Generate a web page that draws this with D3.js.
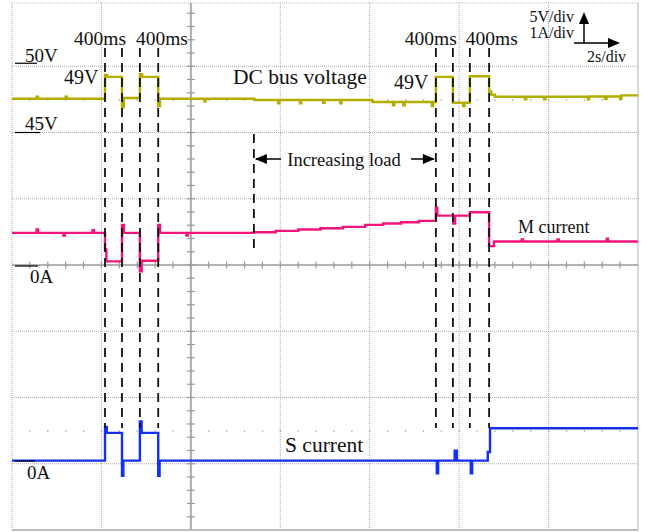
<!DOCTYPE html>
<html>
<head>
<meta charset="utf-8">
<script src="https://cdn.jsdelivr.net/npm/d3@7"></script>
<style>
  body { margin: 0; background: #fff; }
  svg text { font-family: "Liberation Serif", "Times New Roman", serif; fill: #111; }
</style>
</head>
<body>
<svg></svg>
<script>
var width = 647, height = 532;

// time in seconds (2 s/div, 7 divisions shown)
var timeDomain = [0, 14];

// DC bus voltage [t (s), V]
var busVoltage = [
  [0, 47.55], [0.55, 47.7], [0.58, 47.55], [1.2, 47.7], [1.23, 47.55],
  [2.08, 49.35], [2.13, 49.2],
  [2.46, 46.9], [2.5, 47.6],
  [2.86, 49.4], [2.91, 49.2],
  [3.27, 47.0], [3.31, 47.55],
  [4.3, 47.35], [4.33, 47.55],
  [5.42, 47.45], [5.95, 47.2], [5.98, 47.45], [6.44, 47.2], [6.47, 47.45],
  [6.96, 47.25], [6.99, 47.45], [7.34, 47.2], [7.37, 47.45],
  [8.06, 47.3], [8.52, 47.05], [8.55, 47.3], [8.75, 47.05], [8.78, 47.3],
  [9.39, 47.0], [9.42, 47.3],
  [9.48, 49.2],
  [9.86, 47.25], [10.09, 47.0], [10.12, 47.25],
  [10.24, 49.25],
  [10.67, 48.1], [10.72, 47.85], [10.8, 47.7],
  [11.47, 47.5], [11.5, 47.7], [11.9, 47.5], [11.93, 47.7],
  [12.88, 47.5], [12.91, 47.72], [13.26, 47.55], [13.3, 47.72],
  [13.6, 47.55], [13.63, 47.8], [14, 47.8]
];

// M current [t (s), A]
var mCurrent = [
  [0, 0.5], [0.55, 0.55], [0.58, 0.5], [1.15, 0.46], [1.18, 0.5], [1.8, 0.54], [1.83, 0.5],
  [2.08, 0.25], [2.11, 0.07],
  [2.46, 0.62], [2.5, 0.5],
  [2.86, -0.08], [2.9, 0.08],
  [3.27, 0.62], [3.31, 0.5],
  [3.9, 0.46], [3.93, 0.5],
  [5.41, 0.51], [5.9, 0.53], [6.4, 0.55], [6.9, 0.57], [7.4, 0.59],
  [7.9, 0.62], [8.3, 0.64], [8.7, 0.66], [9.1, 0.68],
  [9.48, 0.88], [9.51, 0.76],
  [9.87, 0.64], [9.91, 0.76],
  [10.24, 0.81],
  [10.67, 0.3], [10.78, 0.37],
  [11.4, 0.4], [11.43, 0.37], [12.2, 0.4], [12.23, 0.37], [13.3, 0.41], [13.33, 0.37],
  [14, 0.37]
];

// S current [t (s), A]
var sCurrent = [
  [0, 0.02], [2.08, 0.53], [2.12, 0.44],
  [2.46, -0.21], [2.49, 0.02],
  [2.86, 0.61], [2.9, 0.44],
  [3.27, -0.21], [3.3, 0.02],
  [9.5, -0.17], [9.53, 0.02],
  [9.9, 0.17], [9.95, 0.02],
  [10.26, -0.17], [10.29, 0.02],
  [10.64, 0.15], [10.69, 0.51],
  [14, 0.51]
];

// 400 ms windows (start, end) in seconds
var pulseWindows = [[2.08, 2.46], [2.86, 3.27], [9.48, 9.86], [10.24, 10.67]];
var pulseLabels = ["400ms", "400ms", "400ms", "400ms"];
var loadRange = [5.41, 9.48];

var svg = d3.select("svg")
  .attr("width", width)
  .attr("height", height);

svg.append("rect").attr("width", width).attr("height", height).attr("fill", "#fff");

// scales
var x = d3.scaleLinear().domain(timeDomain).range([12, 638]);
var gridY = d3.scaleLinear().domain([0, 8]).range([0, 530]);
var yV = d3.scaleLinear().domain([45, 50]).range([132.5, 66.25]);
var yM = d3.scaleLinear().domain([0, 1]).range([266, 199.7]);
var yS = d3.scaleLinear().domain([0, 1]).range([462, 395.7]);

// grid
var grid = svg.append("g");
d3.range(1, 8).forEach(function (i) {
  if (i == 4) return;
  grid.append("line")
    .attr("x1", 12).attr("x2", 638)
    .attr("y1", gridY(i)).attr("y2", gridY(i))
    .attr("stroke", "#aaa").attr("stroke-dasharray", "1,1");
});
d3.range(1, 7).forEach(function (i) {
  if (i == 2) return;
  grid.append("line")
    .attr("x1", x(i * 2)).attr("x2", x(i * 2))
    .attr("y1", 3).attr("y2", 530)
    .attr("stroke", "#aaa").attr("stroke-dasharray", "1,1");
});
// frame
grid.append("line").attr("x1", 12).attr("x2", 638).attr("y1", 3).attr("y2", 3)
  .attr("stroke", "#bbb").attr("stroke-dasharray", "1,1");
grid.append("line").attr("x1", 12).attr("x2", 12).attr("y1", 3).attr("y2", 530)
  .attr("stroke", "#aaa").attr("stroke-dasharray", "1,1");
grid.append("line").attr("x1", 638).attr("x2", 638).attr("y1", 3).attr("y2", 530)
  .attr("stroke", "#ccc").attr("stroke-width", 1.5);
grid.append("line").attr("x1", 12).attr("x2", 638).attr("y1", 530).attr("y2", 530)
  .attr("stroke", "#aaa").attr("stroke-width", 1.5);

// center axes with minor ticks
grid.append("line").attr("x1", 12).attr("x2", 638).attr("y1", gridY(4)).attr("y2", gridY(4))
  .attr("stroke", "#999").attr("stroke-width", 1.5);
grid.append("line").attr("x1", x(4)).attr("x2", x(4)).attr("y1", 3).attr("y2", 530)
  .attr("stroke", "#aaa").attr("stroke-width", 2);
d3.range(0.4, 14, 0.4).forEach(function (t) {
  grid.append("line").attr("x1", x(t)).attr("x2", x(t))
    .attr("y1", gridY(4) - 3.5).attr("y2", gridY(4) + 3.5)
    .attr("stroke", "#999").attr("stroke-width", 1.2);
});
d3.range(1, 40).forEach(function (k) {
  var yy = gridY(k / 5);
  grid.append("line").attr("x1", x(4) - 4).attr("x2", x(4) + 4)
    .attr("y1", yy).attr("y2", yy)
    .attr("stroke", "#999").attr("stroke-width", 1.2);
});
// faint marker dots
[100, 431].forEach(function (yy) {
  d3.range(0.4, 14, 0.4).forEach(function (t) {
    grid.append("rect").attr("x", x(t) - 0.6).attr("y", yy - 0.6)
      .attr("width", 1.3).attr("height", 1.3).attr("fill", "#999");
  });
});

// traces
function trace(data, yScale, color) {
  svg.append("path")
    .datum(data)
    .attr("fill", "none")
    .attr("stroke", color)
    .attr("stroke-width", 2.4)
    .attr("d", d3.line()
      .curve(d3.curveStepAfter)
      .x(function (d) { return x(d[0]); })
      .y(function (d) { return yScale(d[1]); })
    );
}
trace(busVoltage, yV, "#b3ad00");
trace(mCurrent, yM, "#f2147d");
trace(sCurrent, yS, "#1530f5");

// dashed markers for the 400 ms windows
var dashes = svg.append("g");
pulseWindows.forEach(function (w) {
  w.forEach(function (t) {
    dashes.append("line")
      .attr("x1", x(t)).attr("x2", x(t))
      .attr("y1", 48).attr("y2", 428)
      .attr("stroke", "#111").attr("stroke-width", 1.8)
      .attr("stroke-dasharray", "9,6");
  });
});
dashes.append("line")
  .attr("x1", x(loadRange[0])).attr("x2", x(loadRange[0]))
  .attr("y1", 134).attr("y2", 252)
  .attr("stroke", "#111").attr("stroke-width", 1.8)
  .attr("stroke-dasharray", "9,6");

// 400ms labels sit outside each pair of windows
pulseWindows.forEach(function (w, i) {
  var outer = i % 2 == 0;
  svg.append("text")
    .attr("x", outer ? x(w[1]) + 4 : x(w[0]) - 4).attr("y", 45)
    .attr("text-anchor", outer ? "end" : "start").attr("font-size", 19.5)
    .text(pulseLabels[i]);
});

// arrows
function arrowHead(x0, y0, dx, dy) {
  // tip at (x0, y0), direction (dx, dy)
  var len = 12, half = 5;
  var bx = x0 - dx * len, by = y0 - dy * len;
  var px = -dy * half, py = dx * half;
  svg.append("path")
    .attr("d", "M" + x0 + "," + y0 + "L" + (bx + px) + "," + (by + py) + "L" + (bx - px) + "," + (by - py) + "Z")
    .attr("fill", "#000");
}
var yArrow = 159;
svg.append("line").attr("x1", x(loadRange[0]) + 2).attr("x2", 281)
  .attr("y1", yArrow).attr("y2", yArrow).attr("stroke", "#000").attr("stroke-width", 1.5);
arrowHead(x(loadRange[0]) + 1, yArrow, -1, 0);
svg.append("line").attr("x1", 411).attr("x2", x(loadRange[1]) - 2)
  .attr("y1", yArrow).attr("y2", yArrow).attr("stroke", "#000").attr("stroke-width", 1.5);
arrowHead(x(loadRange[1]) - 1, yArrow, 1, 0);
svg.append("text").attr("x", 344).attr("y", 166)
  .attr("text-anchor", "middle").attr("font-size", 18.5).text("Increasing load");

// scale legend
svg.append("line").attr("x1", 584).attr("x2", 584).attr("y1", 43).attr("y2", 20)
  .attr("stroke", "#000").attr("stroke-width", 1.5);
arrowHead(584, 12, 0, -1);
svg.append("line").attr("x1", 574).attr("x2", 610).attr("y1", 43).attr("y2", 43)
  .attr("stroke", "#000").attr("stroke-width", 1.5);
arrowHead(620, 43, 1, 0);
svg.append("text").attr("x", 574).attr("y", 22).attr("text-anchor", "end")
  .attr("font-size", 16).text("5V/div");
svg.append("text").attr("x", 574).attr("y", 38).attr("text-anchor", "end")
  .attr("font-size", 16).text("1A/div");
svg.append("text").attr("x", 587).attr("y", 62)
  .attr("font-size", 16).text("2s/div");

// level markers
function levelMark(y, x2, label, lx, ly) {
  svg.append("line").attr("x1", 15).attr("x2", x2).attr("y1", y).attr("y2", y)
    .attr("stroke", "#000").attr("stroke-width", 1.2);
  svg.append("text").attr("x", lx).attr("y", ly).attr("font-size", 19).text(label);
}
levelMark(yV(50) - 3, 37, "50V", 25, 62);
levelMark(yV(45), 40, "45V", 25, 130);
levelMark(yM(0), 38, "0A", 30, 283);
levelMark(yS(0) - 1, 35, "0A", 27, 479);

// channel labels
svg.append("text").attr("x", 64).attr("y", 84).attr("font-size", 20).text("49V");
svg.append("text").attr("x", 394).attr("y", 89).attr("font-size", 20).text("49V");
svg.append("text").attr("x", 233).attr("y", 84).attr("font-size", 21.5).text("DC bus voltage");
svg.append("text").attr("x", 518).attr("y", 233).attr("font-size", 18).text("M current");
svg.append("text").attr("x", 285).attr("y", 452).attr("font-size", 21.5).text("S current");
</script>
</body>
</html>
